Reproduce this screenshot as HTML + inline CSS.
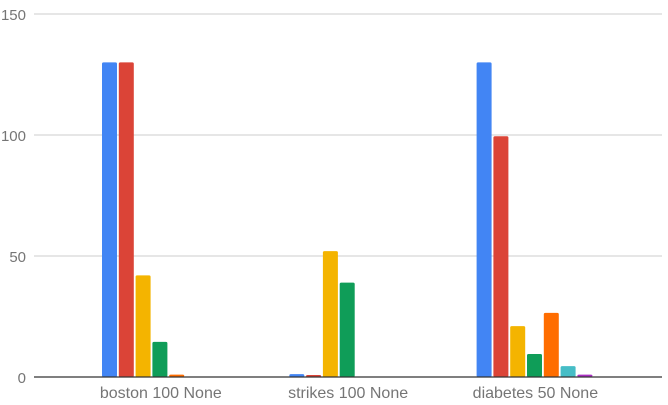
<!DOCTYPE html>
<html><head><meta charset="utf-8"><style>
body{margin:0;background:#fff;}
svg{display:block;font-family:"Liberation Sans",sans-serif;}
</style></head><body>
<svg id="c" width="668" height="405"></svg>
<script>
const categories=["boston 100 None","strikes 100 None","diabetes 50 None"];
const s1=[130,1.2,130];
const s2=[130,0.8,99.5];
const s3=[42,52,21];
const s4=[14.5,39,9.5];
const s5=[1,0,26.5];
const s6=[0,0,4.5];
const s7=[0,0,1];
const series=[s1,s2,s3,s4,s5,s6,s7];
const colors=["#4285f4","#db4437","#f4b400","#0f9d58","#ff6d00","#46bdc6","#ab30c4"];
const yTicks=[0,50,100,150];
const NS="http://www.w3.org/2000/svg";
const svg=document.getElementById('c');
const y0=377,yTop=14,x0=34,x1=662;
const y=v=>y0-(v/150)*(y0-yTop);
const gx=i=>102+i*187.3;
const slot=16.8,bw=15;
function mk(t,a){const e=document.createElementNS(NS,t);for(const k in a)e.setAttribute(k,a[k]);svg.appendChild(e);return e;}
yTicks.forEach(t=>{
  if(t>0){const l=mk('line',{x1:x0,x2:x1,y1:y(t),y2:y(t),stroke:'#cccccc','stroke-width':1});
  
  }
  const tx=mk('text',{x:26,y:y(t)+6,'text-anchor':'end','font-size':15,fill:'#757575'});
  tx.textContent=t;
  
  
});
series.forEach((s,j)=>{
  s.forEach((v,i)=>{
    if(v<=0)return;
    const h=Math.max(y0-y(v),2);
    const r=mk('rect',{x:gx(i)+j*slot,y:y0-h,width:bw,height:h,fill:colors[j],rx:1.5});
    
    
  });
});
const ax=mk('line',{x1:x0,x2:x1,y1:y0,y2:y0,stroke:'#333','stroke-width':1.3});


categories.forEach((c,i)=>{
  const t=mk('text',{x:gx(i)+7*slot/2,y:398,'text-anchor':'middle','font-size':16,fill:'#757575'});
  t.textContent=c;
  
  
});
</script>
</body></html>
